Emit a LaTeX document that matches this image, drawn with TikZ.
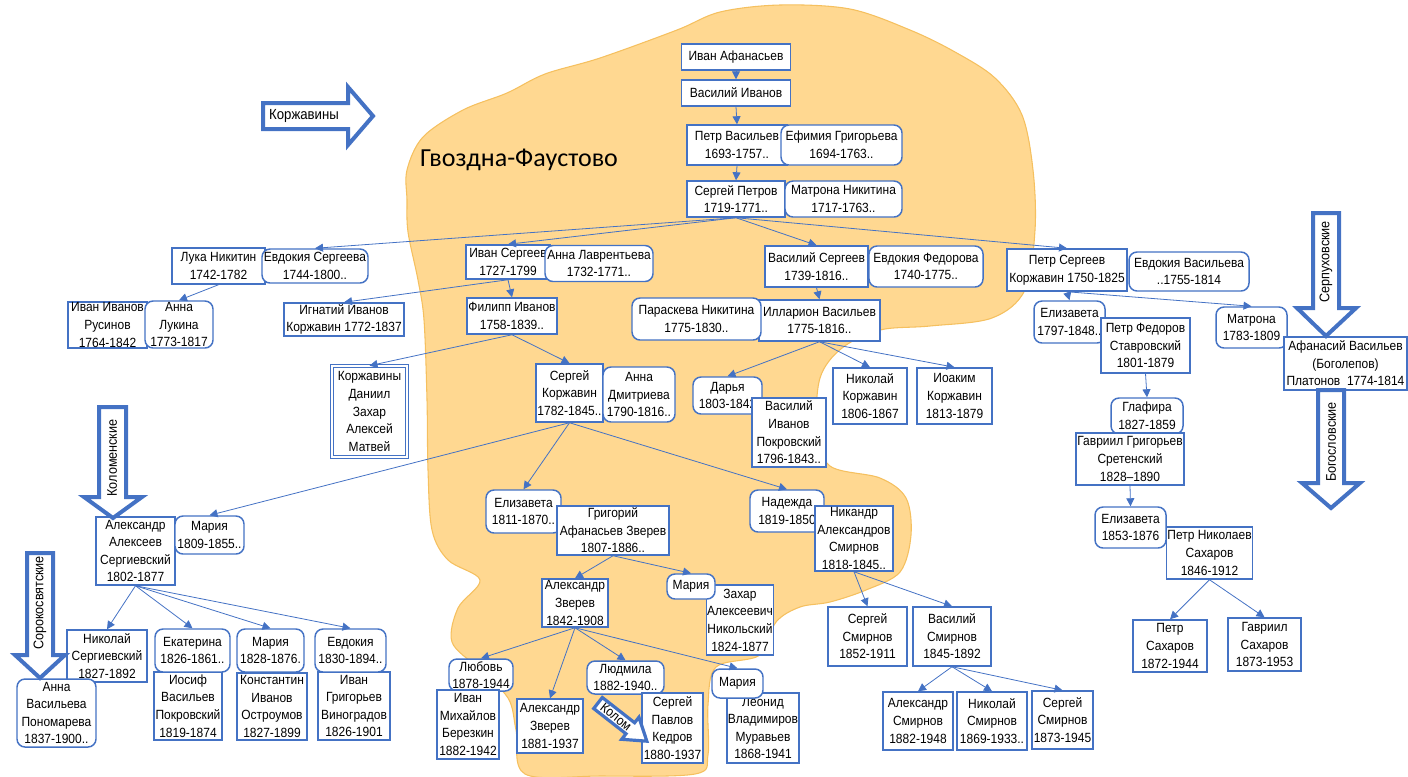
\documentclass[tikz,border=0pt]{standalone}
\usepackage{fontspec}
\setmainfont{Liberation Sans}
\newfontfamily\boxfam{Liberation Sans}[FakeStretch=0.9]
\newfontfamily\titlefam{Carlito}
\usetikzlibrary{arrows.meta}

\tikzset{every picture/.style={line width=0.75pt}}
\tikzset{
  pers/.style={draw={rgb, 255:red, 68; green, 114; blue, 196 }, fill=white, line width=1.1pt,
    align=center, inner sep=0.5pt, font=\boxfam\fontsize{10}{13.2}\selectfont},
  rpers/.style={pers, rounded corners=6pt},
  sz/.style 2 args={minimum width=#1*0.75pt, minimum height=#2*0.75pt},
  link/.style={draw={rgb, 255:red, 68; green, 114; blue, 196 }, line width=0.6pt,
    -{Triangle[width=6pt,length=6pt]}},
  bigarrow/.style={draw={rgb, 255:red, 68; green, 114; blue, 196 }, fill=white, line width=3pt},
  lbl/.style={font=\boxfam\fontsize{10.5}{12}\selectfont, inner sep=0pt},
}

\begin{document}
\begin{tikzpicture}[x=0.75pt,y=0.75pt,yscale=-1,xscale=1]
\useasboundingbox (0,0) rectangle (1408,776);

%Shape: Blob
\draw [draw={rgb, 255:red, 245; green, 192; blue, 95 }, fill={rgb, 255:red, 255; green, 216; blue, 145 }, line width=0.8pt]
  plot [smooth cycle, tension=0.55] coordinates {
  (407,170) (423,137) (463,110) (507,93) (545,74) (600,58) (677,30) (720,12) (780,5)
  (850,9) (910,30) (955,52) (995,78) (1022,115) (1033,170) (1035,230) (1025,290)
  (992,318) (930,326) (880,330) (842,348) (820,378) (817,430) (830,466) (880,478)
  (906,498) (911,535) (900,572) (866,590) (830,602) (800,607) (776,622) (760,655)
  (716,667) (708,705) (708,755) (695,774) (600,776) (525,774) (516,730) (508,698)
  (478,668) (452,642) (458,608) (480,580) (448,560) (432,530) (428,470) (427,400)
  (424,320) (418,280) (408,232) (407,200)};

% Text Node
\node [font=\titlefam\fontsize{19.5}{23}\selectfont, inner sep=0pt] (place) at (519,160) {Гвоздна-Фаустово};

%Shape: Rectangle -- top line
\node [pers, sz={109}{26}] (ivanA) at (736,57) {Иван Афанасьев};
\node [pers, sz={109}{26}] (vasI) at (736,93) {Василий Иванов};
\node [pers, sz={100}{40}] (petrV) at (737,145) {Петр Васильев\\1693-1757..};
\node [rpers, sz={121}{40}] (efim) at (841.5,145) {Ефимия Григорьева\\1694-1763..};
\node [pers, sz={98}{36}] (sergP) at (736,199) {Сергей Петров\\1719-1771..};
\node [rpers, sz={117}{36}] (matrN) at (843.5,199) {Матрона Никитина\\1717-1763..};

%Shape: Rectangle -- children of Sergei Petrov
\node [pers, sz={93}{36}] (luka) at (218.5,266) {Лука Никитин\\1742-1782};
\node [rpers, sz={106}{34}] (evdS) at (315,266) {Евдокия Сергеева\\1744-1800..};
\node [pers, sz={84}{34}] (ivanS) at (508,262) {Иван Сергеев\\1727-1799};
\node [rpers, sz={108}{36}] (annaL) at (599,263.5) {Анна Лаврентьева\\1732-1771..};
\node [pers, sz={103}{41}] (vasS) at (816.5,266.5) {Василий Сергеев\\1739-1816..};
\node [rpers, sz={114}{41}] (evdF) at (926,266.5) {Евдокия Федорова\\1740-1775..};
\node [pers, sz={120}{42}] (petrS) at (1067,270) {Петр Сергеев\\Коржавин 1750-1825};
\node [rpers, sz={120}{39}] (evdV) at (1189,271.5) {Евдокия Васильева\\..1755-1814};

%Shape: Rectangle -- third line
\node [pers, sz={79}{46}] (ivanR) at (107.5,325) {Иван Иванов\\Русинов\\1764-1842};
\node [rpers, sz={68}{47}] (annaLu) at (179,324.5) {Анна\\Лукина\\1773-1817};
\node [pers, sz={120}{33}] (ignat) at (344,319.5) {Игнатий Иванов\\Коржавин 1772-1837};
\node [pers, sz={90}{36}] (filipp) at (512,316) {Филипп Иванов\\1758-1839..};
\node [pers, sz={121}{41}] (illar) at (819.5,320.5) {Илларион Васильев\\1775-1816..};
\node [rpers, sz={129}{42}] (parask) at (696.5,319) {Параскева Никитина\\1775-1830..};
\node [rpers, sz={71}{42}] (elizK) at (1069.5,322) {Елизавета\\1797-1848..};
\node [pers, sz={89}{55}] (petrF) at (1145.5,345.5) {Петр Федоров\\Ставровский\\1801-1879};
\node [rpers, sz={71}{41}] (matrona) at (1251.5,327.5) {Матрона\\1783-1809};
\node [pers, sz={123}{53}] (afan) at (1345.5,363.5) {Афанасий Васильев\\(Боголепов)\\Платонов\ \ 1774-1814};

%Shape: Rectangle -- fourth line
\node [pers, sz={75}{91}, line width=0.5pt, double, double distance=1.5pt] (korzh) at (369.5,411.5) {Коржавины\\Даниил\\Захар\\Алексей\\Матвей};
\node [pers, sz={67}{58}] (sergK) at (569.5,393) {Сергей\\Коржавин\\1782-1845..};
\node [rpers, sz={72}{55}] (annaD) at (639,394.5) {Анна\\Дмитриева\\1790-1816..};
\node [rpers, sz={69}{37}] (darya) at (727.5,395.5) {Дарья\\1803-1842};
\node [pers, sz={74}{69}] (vasIP) at (789,432.5) {Василий\\Иванов\\Покровский\\1796-1843..};
\node [pers, sz={74}{56}] (nikK) at (870,396) {Николай\\Коржавин\\1806-1867};
\node [pers, sz={75}{56}] (ioak) at (954.5,396) {Иоаким\\Коржавин\\1813-1879};
\node [rpers, sz={72}{36}] (glaf) at (1147,416) {Глафира\\1827-1859};
\node [pers, sz={108}{52}] (gavrG) at (1130,459) {Гавриил Григорьев\\Сретенский\\1828–1890};

%Shape: Rectangle -- fifth line
\node [pers, sz={79}{68}] (alexS) at (135.5,551) {Александр\\Алексеев\\Сергиевский\\1802-1877};
\node [rpers, sz={69}{38}] (mariaA) at (209.5,535) {Мария\\1809-1855..};
\node [rpers, sz={75}{43}] (elizZ) at (523.5,511.5) {Елизавета\\1811-1870..};
\node [pers, sz={112}{49}] (grigZ) at (613,530.5) {Григорий\\Афанасьев Зверев\\1807-1886..};
\node [rpers, sz={74}{42}] (nadezh) at (787,511) {Надежда\\1819-1850};
\node [pers, sz={78}{65}] (nikS) at (854,538.5) {Никандр\\Александров\\Смирнов\\1818-1845..};
\node [rpers, sz={71}{41}] (elizS) at (1130.5,527.5) {Елизавета\\1853-1876};
\node [pers, sz={85}{52}] (petrN) at (1209.5,553) {Петр Николаев\\Сахаров\\1846-1912};

%Shape: Rectangle -- sixth line
\node [pers, sz={66}{48}] (alexZ) at (575,603) {Александр\\Зверев\\1842-1908};
\node [pers, sz={66}{70}] (zahar) at (740,620) {Захар\\Алексеевич\\Никольский\\1824-1877};
\node [rpers, sz={48}{25}] (mariaZ) at (691,586.5) {Мария};
\node [pers, sz={79}{59}] (sergSm) at (867.5,636.5) {Сергей\\Смирнов\\1852-1911};
\node [pers, sz={78}{59}] (vasSm) at (952,636.5) {Василий\\Смирнов\\1845-1892};
\node [pers, sz={74}{52}] (petrSa) at (1170,646) {Петр\\Сахаров\\1872-1944};
\node [pers, sz={73}{53}] (gavrS) at (1264.5,644.5) {Гавриил\\Сахаров\\1873-1953};
\node [pers, sz={80}{52}] (nikSe) at (107,656) {Николай\\Сергиевский\\1827-1892};
\node [pers, sz={68}{68}] (iosif) at (188,706) {Иосиф\\Васильев\\Покровский\\1819-1874};
\node [rpers, sz={75}{43}] (ekat) at (192.5,650.5) {Екатерина\\1826-1861..};
\node [pers, sz={70}{67}] (konst) at (272,706.5) {Константин\\Иванов\\Остроумов\\1827-1899};
\node [rpers, sz={67}{43}] (mariaS) at (270.5,650.5) {Мария\\1828-1876.};
\node [pers, sz={72}{68}] (ivanG) at (354,706) {Иван\\Григорьев\\Виноградов\\1826-1901};
\node [rpers, sz={71}{43}] (evdK) at (350.5,650.5) {Евдокия\\1830-1894..};
\node [rpers, sz={79}{68}] (annaP) at (56.5,713) {Анна\\Васильева\\Пономарева\\1837-1900..};

%Shape: Rectangle -- bottom line
\node [rpers, sz={64}{32}] (lyub) at (481,675) {Любовь\\1878-1944};
\node [pers, sz={62}{69}] (ivanM) at (468,724.5) {Иван\\Михайлов\\Березкин\\1882-1942};
\node [pers, sz={66}{54}] (alexZb) at (550,726) {Александр\\Зверев\\1881-1937};
\node [rpers, sz={77}{33}] (lyud) at (625.5,677.5) {Людмила\\1882-1940..};
\node [pers, sz={61}{70}] (sergPK) at (672.5,728) {Сергей\\Павлов\\Кедров\\1880-1937};
\node [pers, sz={72}{70}] (leon) at (763,728) {Леонид\\Владимиров\\Муравьев\\1868-1941};
\node [rpers, sz={51}{29}] (mariaL) at (737.5,683.5) {Мария};
\node [pers, sz={70}{58}] (alexSm) at (918,721) {Александр\\Смирнов\\1882-1948};
\node [pers, sz={70}{58}] (nikSm) at (992,721) {Николай\\Смирнов\\1869-1933..};
\node [pers, sz={61}{58}] (sergSmb) at (1062.5,720) {Сергей\\Смирнов\\1873-1945};

%Straight Lines
\draw [link] (ivanA.south) -- (vasI.north);
\draw [link] (vasI.south) -- (petrV.north);
\draw [link] (petrV.south) -- (sergP.north);
\draw [link] (sergP.south) -- (evdS.north);
\draw [link] (sergP.south) -- (ivanS.north);
\draw [link] (sergP.south) -- (vasS.north);
\draw [link] (sergP.south) -- (petrS.north);
\draw [link] (luka.south) -- (annaLu.north);
\draw [link] (ivanS.south) -- (ignat.north);
\draw [link] (ivanS.south) -- (filipp.north);
\draw [link] (filipp.south) -- (korzh.north);
\draw [link] (filipp.south) -- (sergK.north);
\draw [link] (vasS.south) -- (illar.north);
\draw [link] (illar.south) -- (darya.north);
\draw [link] (illar.south) -- (nikK.north);
\draw [link] (illar.south) -- (ioak.north);
\draw [link] (petrS.south) -- (elizK.north);
\draw [link] (petrS.south) -- (matrona.north);
\draw [link] (petrF.south) -- (glaf.north);
\draw [link] (gavrG.south) -- (elizS.north);
\draw [link] (petrN.south) -- (petrSa.north);
\draw [link] (petrN.south) -- (gavrS.north);
\draw [link] (sergK.south) -- (mariaA.north);
\draw [link] (sergK.south) -- (elizZ.north);
\draw [link] (sergK.south) -- (nadezh.north);
\draw [link] (grigZ.south) -- (alexZ.north);
\draw [link] (grigZ.south) -- (mariaZ.north);
\draw [link] (alexZ.south) -- (lyub.north);
\draw [link] (alexZ.south) -- (alexZb.north);
\draw [link] (alexZ.south) -- (lyud.north);
\draw [link] (alexZ.south) -- (mariaL.north);
\draw [link] (nikS.south) -- (sergSm.north);
\draw [link] (nikS.south) -- (vasSm.north);
\draw [link] (vasSm.south) -- (alexSm.north);
\draw [link] (vasSm.south) -- (nikSm.north);
\draw [link] (vasSm.south) -- (sergSmb.north);
\draw [link] (alexS.south) -- (nikSe.north);
\draw [link] (alexS.south) -- (ekat.north);
\draw [link] (alexS.south) -- (mariaS.north);
\draw [link] (alexS.south) -- (evdK.north);

%Shape: Right Arrow
\draw [bigarrow] (263,103) -- (348,103) -- (348,87) -- (373,116) -- (348,145) -- (348,129) -- (263,129) -- cycle;
\node [lbl, font=\boxfam\fontsize{11}{12}\selectfont] (korzhT) at (304,116) {Коржавины};
%Shape: Down Arrow
\draw [bigarrow] (1313,213) -- (1339,213) -- (1339,308) -- (1356,308) -- (1326,336) -- (1297,308) -- (1313,308) -- cycle;
\node [lbl, rotate=90] (serpT) at (1326,262) {Серпуховские};
%Shape: Down Arrow
\draw [bigarrow] (1318,390) -- (1344,390) -- (1344,483) -- (1360,483) -- (1331,508) -- (1302,483) -- (1318,483) -- cycle;
\node [lbl, rotate=90] (bogT) at (1331,442) {Богословские};
%Shape: Down Arrow
\draw [bigarrow] (99,407) -- (126,407) -- (126,497) -- (142,497) -- (113,518) -- (84,497) -- (99,497) -- cycle;
\node [lbl, rotate=90] (kolT) at (112,458) {Коломенские};
%Shape: Down Arrow
\draw [bigarrow] (27,553) -- (53,553) -- (53,655) -- (65,655) -- (40,678) -- (15,655) -- (27,655) -- cycle;
\node [lbl, rotate=90] (sorT) at (40,603) {Сорокосвятские};
%Shape: Right Arrow (tilted)
\begin{scope}[shift={(598,703)}, rotate=38]
\draw [bigarrow, line width=2.4pt] (0,-7) -- (41,-7) -- (41,-14) -- (62,0) -- (41,14) -- (41,7) -- (0,7) -- cycle;
\end{scope}
\node [lbl, rotate=-38, font=\boxfam\fontsize{10}{12}\selectfont] (kolomT) at (616,717) {Колом};

\end{tikzpicture}
\end{document}
